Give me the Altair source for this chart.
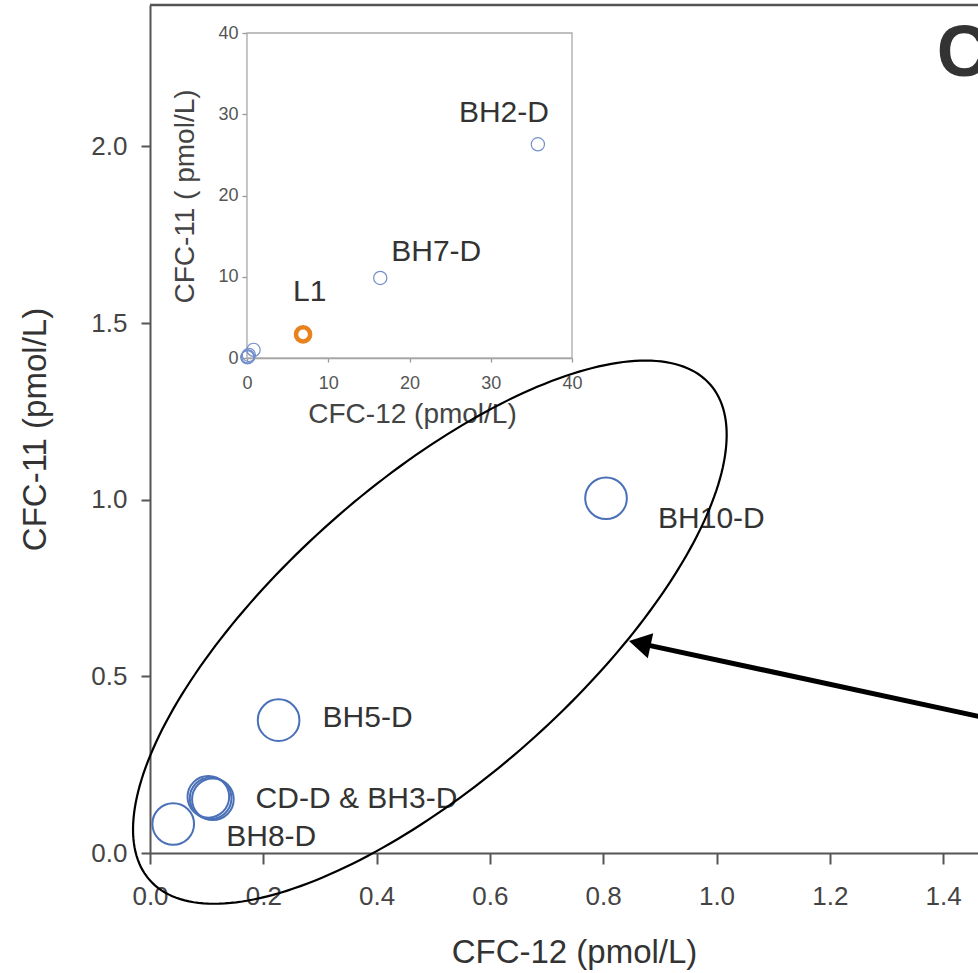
import altair as alt
import pandas as pd
import numpy as np

FONT = "Liberation Sans"

# ---- sample data (CFC-12 vs CFC-11, pmol/L) ----
names = ["BH10-D", "BH5-D", "CD-D", "BH3-D", "BH3-D b", "BH8-D", "BH7-D", "BH2-D", "L1"]
cfc12 = [0.805, 0.227, 0.103, 0.107, 0.111, 0.041, 16.4, 35.8, 6.9]
cfc11 = [1.004, 0.376, 0.159, 0.155, 0.152, 0.082, 9.85, 26.3, 2.9]
main_view = [True, True, True, True, True, True, False, False, False]

# labels: text, anchor sample
main_label_text = ["BH10-D", "BH5-D", "CD-D & BH3-D", "BH8-D"]
main_label_anchor = ["BH10-D", "BH5-D", "BH3-D", "BH8-D"]
inset_label_text = ["BH2-D", "BH7-D", "L1"]
inset_label_anchor = ["BH2-D", "BH7-D", "L1"]

# axes
main_x_ticks = [0.0, 0.2, 0.4, 0.6, 0.8, 1.0, 1.2, 1.4]
main_y_ticks = [0.0, 0.5, 1.0, 1.5, 2.0]
inset_ticks = [0, 10, 20, 30, 40]
X_DOMAIN = [0, 1.4616]
Y_DOMAIN = [0, 2.4]
INSET_DOMAIN = [0, 40]

# annotation shapes (data units)
ELLIPSE_CENTER = (0.494, 0.625)
ELLIPSE_U = (0.4945, 0.7017)
ELLIPSE_V = (0.1732, -0.3137)
ARROW_TAIL = (1.52, 0.367)
ARROW_HEAD = (0.8645, 0.5934)
PANEL_LABEL = ("C", 1.389, 2.262)

df = pd.DataFrame({"name": names, "cfc12": cfc12, "cfc11": cfc11, "main": main_view})

W, H = 828, 848

# label style offsets (pixels)
main_offsets = {"BH10-D": (52, 21), "BH5-D": (44, -2), "CD-D & BH3-D": (45, 1), "BH8-D": (53, 13)}
inset_offsets = {"BH2-D": (-79, -31), "BH7-D": (11, -26), "L1": (-10, -42)}

# ---------------- main view ----------------
mx = alt.X("cfc12:Q",
           scale=alt.Scale(domain=X_DOMAIN, nice=False, zero=False),
           axis=alt.Axis(values=main_x_ticks, format=".1f", title="CFC-12 (pmol/L)",
                         grid=False, labelFlush=False, labelOverlap=False,
                         domainColor="#555", domainWidth=2, tickColor="#555", tickWidth=2,
                         tickSize=11, labelFontSize=26, labelColor="#444", labelPadding=19,
                         labelFont=FONT, titleFont=FONT, titleFontSize=33, titleFontWeight="normal",
                         titleColor="#333", titleX=424, titleY=109, titleBaseline="alphabetic",
                         titleAlign="center"))
my = alt.Y("cfc11:Q",
           scale=alt.Scale(domain=Y_DOMAIN, nice=False, zero=False),
           axis=alt.Axis(values=main_y_ticks, format=".1f", title="CFC-11 (pmol/L)",
                         grid=False, labelFlush=False, labelOverlap=False,
                         domainColor="#555", domainWidth=2, tickColor="#555", tickWidth=2,
                         tickSize=9, labelFontSize=26, labelColor="#444", labelPadding=14,
                         labelFont=FONT, titleFont=FONT, titleFontSize=33, titleFontWeight="normal",
                         titleColor="#333", titleX=-105, titleY=H / 2, titleBaseline="alphabetic",
                         titleAlign="center", titleAngle=270))

base_main = alt.Chart(df).transform_filter("datum.main")

main_pts = base_main.mark_point(shape="circle", filled=False, size=1735, strokeWidth=2,
                                color="#4a70b8", opacity=1).encode(x=mx, y=my)

main_layers = [main_pts]
for txt, anc in zip(main_label_text, main_label_anchor):
    dx, dy = main_offsets[txt]
    main_layers.append(
        alt.Chart(df).transform_filter(alt.datum.name == anc)
        .mark_text(align="left", baseline="middle", dx=dx, dy=dy, fontSize=30, font=FONT, color="#333")
        .encode(x=mx, y=my, text=alt.value(txt))
    )
main = alt.layer(*main_layers)

# ---------------- inset ----------------
ix = alt.X("cfc12:Q",
           scale=alt.Scale(domain=INSET_DOMAIN, range=[97, 422], nice=False, zero=False),
           axis=alt.Axis(orient="bottom", offset=-495, values=inset_ticks, format="d",
                         title="CFC-12 (pmol/L)", grid=False, labelFlush=False, labelOverlap=False,
                         domainColor="#999", domainWidth=1.3, tickColor="#999", tickWidth=1.3,
                         tickSize=4, labelFontSize=18, labelColor="#555", labelPadding=12,
                         labelFont=FONT, titleFont=FONT, titleFontSize=28, titleFontWeight="normal",
                         titleColor="#444", titleX=262, titleY=64, titleBaseline="alphabetic",
                         titleAlign="center"))
iy = alt.Y("cfc11:Q",
           scale=alt.Scale(domain=INSET_DOMAIN, range=[353, 28], nice=False, zero=False),
           axis=alt.Axis(orient="left", offset=-97, values=inset_ticks, format="d",
                         title="CFC-11 ( pmol/L)", grid=False, labelFlush=False, labelOverlap=False,
                         domainColor="#999", domainWidth=1.3, tickColor="#999", tickWidth=1.3,
                         tickSize=5, labelFontSize=18, labelColor="#555", labelPadding=4,
                         labelFont=FONT, titleFont=FONT, titleFontSize=28, titleFontWeight="normal",
                         titleColor="#444", titleX=-54, titleY=191, titleBaseline="alphabetic",
                         titleAlign="center", titleAngle=270))

frame_df = pd.DataFrame({"cfc12": [INSET_DOMAIN[0]], "x2": [INSET_DOMAIN[1]],
                         "cfc11": [INSET_DOMAIN[0]], "y2": [INSET_DOMAIN[1]]})
inset_frame = alt.Chart(frame_df).mark_rect(fill="white", stroke="#aaa", strokeWidth=1.3).encode(
    x=ix, x2="x2:Q", y=iy, y2="y2:Q")

inset_pts = alt.Chart(df).transform_filter(alt.datum.name != "L1").mark_point(
    shape="circle", filled=False, size=175, strokeWidth=1.2, color="#7490cc", opacity=1
).encode(x=ix, y=iy)
inset_l1 = alt.Chart(df).transform_filter(alt.datum.name == "L1").mark_point(
    shape="circle", filled=False, size=200, strokeWidth=4.5, color="#e8821e", opacity=1
).encode(x=ix, y=iy)

inset_layers = [inset_frame, inset_pts, inset_l1]
for txt, anc in zip(inset_label_text, inset_label_anchor):
    dx, dy = inset_offsets[txt]
    inset_layers.append(
        alt.Chart(df).transform_filter(alt.datum.name == anc)
        .mark_text(align="left", baseline="middle", dx=dx, dy=dy, fontSize=30, font=FONT, color="#333")
        .encode(x=ix, y=iy, text=alt.value(txt))
    )
inset = alt.layer(*inset_layers)

# ---------------- overlay annotations (main scales, no axes) ----------------
ox = alt.X("cfc12:Q", scale=alt.Scale(domain=X_DOMAIN, nice=False, zero=False), axis=None)
oy = alt.Y("cfc11:Q", scale=alt.Scale(domain=Y_DOMAIN, nice=False, zero=False), axis=None)

t = np.linspace(0, 2 * np.pi, 241)
ell_df = pd.DataFrame({
    "t": t,
    "cfc12": ELLIPSE_CENTER[0] + ELLIPSE_U[0] * np.cos(t) + ELLIPSE_V[0] * np.sin(t),
    "cfc11": ELLIPSE_CENTER[1] + ELLIPSE_U[1] * np.cos(t) + ELLIPSE_V[1] * np.sin(t),
})
ellipse = alt.Chart(ell_df).mark_line(color="black", strokeWidth=2.2).encode(
    x=ox, y=oy, order="t:Q")

top_df = pd.DataFrame({"cfc11": [Y_DOMAIN[1]]})
top_line = alt.Chart(top_df).mark_rule(color="#555", strokeWidth=2.5).encode(y=oy)

arrow_df = pd.DataFrame({"cfc12": [ARROW_TAIL[0]], "cfc11": [ARROW_TAIL[1]],
                         "x2": [ARROW_HEAD[0]], "y2": [ARROW_HEAD[1]]})
arrow_line = alt.Chart(arrow_df).mark_rule(color="black", strokeWidth=5).encode(
    x=ox, y=oy, x2="x2:Q", y2="y2:Q")
head_df = pd.DataFrame({"cfc12": [ARROW_HEAD[0]], "cfc11": [ARROW_HEAD[1]]})
arrow_head = alt.Chart(head_df).mark_point(shape="triangle-left", size=650, filled=True,
                                           color="black", opacity=1, angle=12.3).encode(x=ox, y=oy)

panel_df = pd.DataFrame({"cfc12": [PANEL_LABEL[1]], "cfc11": [PANEL_LABEL[2]], "lab": [PANEL_LABEL[0]]})
panel = alt.Chart(panel_df).mark_text(align="left", baseline="middle", fontSize=72,
                                      fontWeight="bold", font=FONT, color="#333").encode(
    x=ox, y=oy, text="lab:N")

overlay = alt.layer(top_line, ellipse, arrow_line, arrow_head, panel)

chart = alt.layer(main, inset, overlay).resolve_scale(
    x="independent", y="independent").resolve_axis(x="independent", y="independent").properties(
    width=W, height=H,
    autosize=alt.AutoSizeParams(type="none"),
    padding={"left": 150, "top": 5, "right": 0, "bottom": 119},
    background="white",
).configure_view(stroke="transparent")

chart.save("out.html", embed_options={"renderer": "svg", "actions": False})
